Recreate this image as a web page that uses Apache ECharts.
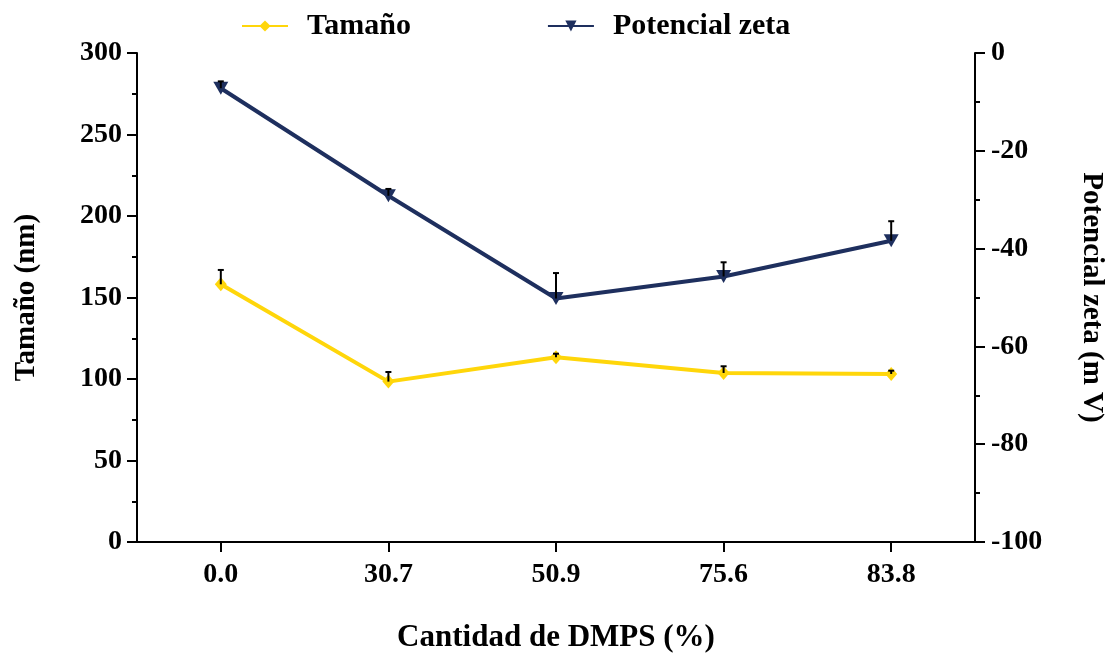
<!DOCTYPE html>
<html>
<head>
<meta charset="utf-8">
<script src="https://cdn.jsdelivr.net/npm/echarts@6/dist/echarts.min.js"></script>
<style>html,body{margin:0;padding:0;background:#fff}#c{width:1111px;height:654px}</style>
</head>
<body>
<div id="c"></div>
<script>
const categories = ['0.0', '30.7', '50.9', '75.6', '83.8'];
const sizeValues = [158.1, 98.4, 113.3, 103.7, 103.1];
const sizeErrors = [8.8, 5.9, 2.2, 4.1, 2.0];
const zetaValues = [-7.2, -29.2, -50.2, -45.7, -38.4];
const zetaErrors = [1.4, 1.4, 5.2, 2.9, 4.0];
const sizeTicks = [0, 300, 50];
const zetaTicks = [-100, 0, 20];

const FONT = 'Liberation Serif';
const YELLOW = '#FFD60A';
const NAVY = '#1E2F5E';

function errRender(params, api) {
  const i = api.value(0), v = api.value(1), e = api.value(2);
  const p0 = api.coord([i, v]);
  const p1 = api.coord([i, v + e]);
  return {
    type: 'group',
    children: [
      { type: 'line', shape: { x1: p0[0], y1: p0[1], x2: p1[0], y2: p1[1] }, style: { stroke: '#000', lineWidth: 2 } },
      { type: 'line', shape: { x1: p1[0] - 3, y1: p1[1], x2: p1[0] + 3, y2: p1[1] }, style: { stroke: '#000', lineWidth: 2 } }
    ]
  };
}

const axisCommon = {
  axisLine: { show: true, lineStyle: { color: '#000', width: 2 } },
  axisTick: { show: true, length: 10, lineStyle: { color: '#000', width: 2 } },
  minorTick: { show: true, splitNumber: 2, length: 5, lineStyle: { color: '#000', width: 2 } },
  splitLine: { show: false },
  nameTextStyle: { fontFamily: FONT, fontWeight: 'bold', fontSize: 29, color: '#000' },
  axisLabel: { fontFamily: FONT, fontWeight: 'bold', fontSize: 28, color: '#000' }
};

const chart = echarts.init(document.getElementById('c'), null, { renderer: 'canvas' });
chart.setOption({
  animation: false,
  backgroundColor: '#fff',
  grid: { left: 137, right: 136, top: 53, bottom: 112, containLabel: false, outerBoundsMode: 'none' },
  legend: {
    data: ['Tamaño', 'Potencial zeta'],
    left: 236, top: 6,
    itemWidth: 46, itemHeight: 14, itemGap: 136,
    textStyle: { fontFamily: FONT, fontWeight: 'bold', fontSize: 30, color: '#000', padding: [0, 0, 0, 14] }
  },
  xAxis: {
    type: 'category',
    data: categories,
    boundaryGap: true,
    name: 'Cantidad de DMPS (%)',
    nameLocation: 'middle',
    nameGap: 80,
    nameTextStyle: Object.assign({}, axisCommon.nameTextStyle, { fontSize: 31 }),
    axisLine: axisCommon.axisLine,
    axisTick: { show: true, alignWithLabel: true, length: 10, lineStyle: { color: '#000', width: 2 } },
    axisLabel: Object.assign({}, axisCommon.axisLabel, { margin: 19 }),
    splitLine: { show: false }
  },
  yAxis: [
    Object.assign({}, axisCommon, {
      type: 'value', position: 'left',
      min: sizeTicks[0], max: sizeTicks[1], interval: sizeTicks[2],
      name: 'Tamaño (nm)', nameLocation: 'middle', nameGap: 96, nameRotate: 90,
      axisLabel: Object.assign({}, axisCommon.axisLabel, { margin: 15 })
    }),
    Object.assign({}, axisCommon, {
      type: 'value', position: 'right',
      min: zetaTicks[0], max: zetaTicks[1], interval: zetaTicks[2],
      name: 'Potencial zeta (m V)', nameLocation: 'middle', nameGap: 102, nameRotate: -90,
      axisLabel: Object.assign({}, axisCommon.axisLabel, { margin: 16 })
    })
  ],
  series: [
    {
      name: 'Tamaño', type: 'line', yAxisIndex: 0,
      data: sizeValues,
      symbol: 'diamond', symbolSize: [12, 14],
      itemStyle: { color: YELLOW },
      lineStyle: { color: YELLOW, width: 4 },
      z: 3
    },
    {
      name: 'Potencial zeta', type: 'line', yAxisIndex: 1,
      data: zetaValues,
      symbol: 'triangle', symbolRotate: 180, symbolSize: [15, 13],
      itemStyle: { color: NAVY },
      lineStyle: { color: NAVY, width: 4 },
      z: 3
    },
    {
      name: 'errSize', type: 'custom', yAxisIndex: 0,
      renderItem: errRender,
      data: categories.map((c, i) => [i, sizeValues[i], sizeErrors[i]]),
      encode: { x: 0, y: 1 },
      z: 5
    },
    {
      name: 'errZeta', type: 'custom', yAxisIndex: 1,
      renderItem: errRender,
      data: categories.map((c, i) => [i, zetaValues[i], zetaErrors[i]]),
      encode: { x: 0, y: 1 },
      z: 5
    }
  ]
});
</script>
</body>
</html>
